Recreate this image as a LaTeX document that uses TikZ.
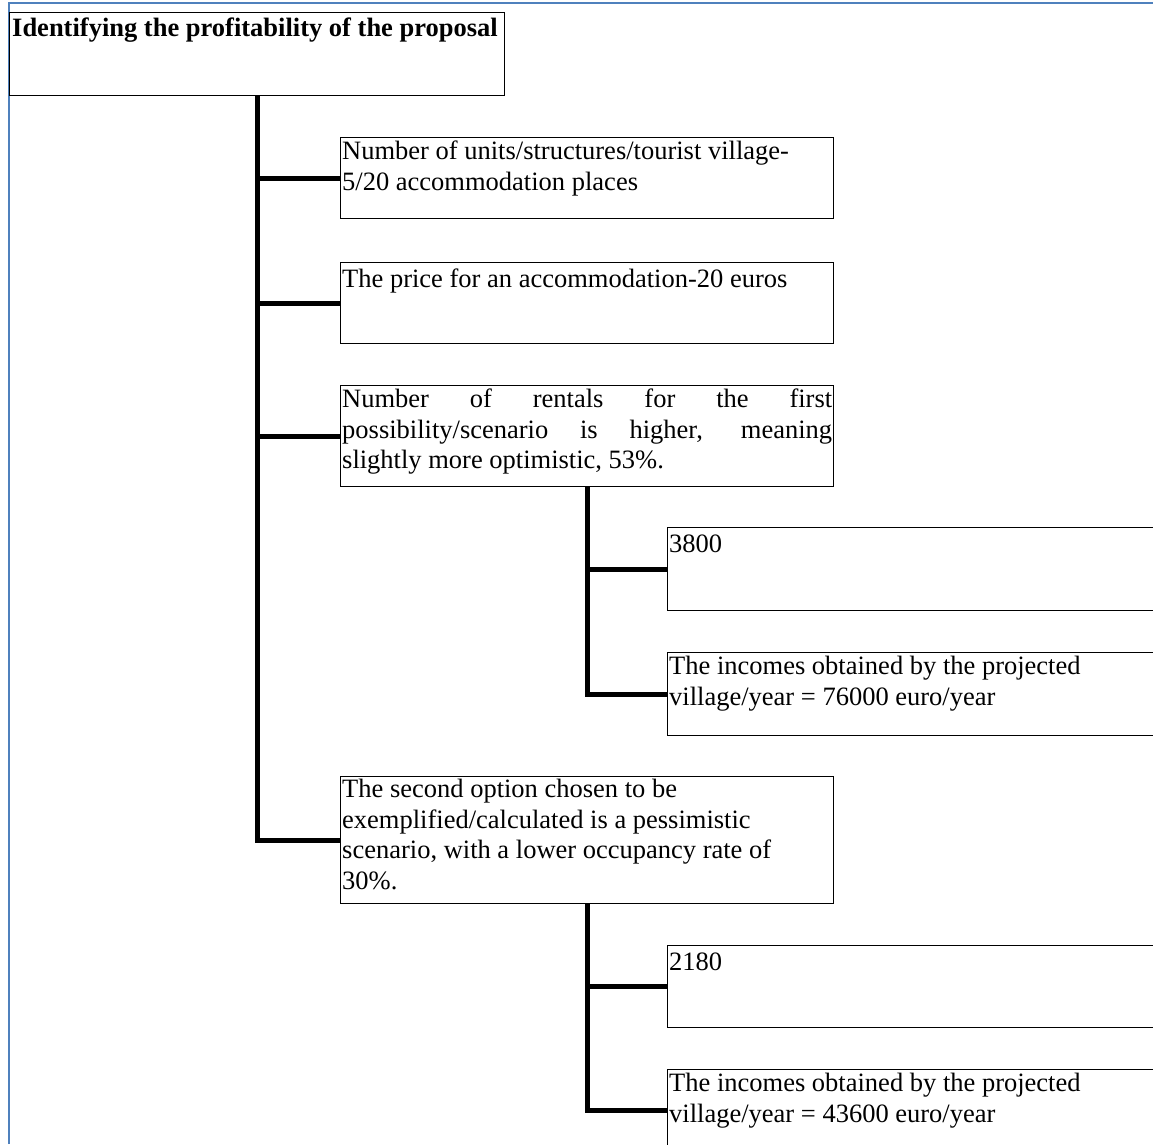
\documentclass[tikz,border=0pt]{standalone}
\usepackage{fontspec}
\setmainfont{Liberation Serif}
\usetikzlibrary{calc}
\definecolor{frameblue}{RGB}{79,129,189}
\tikzset{
  box/.style={draw,line width=1.3pt,anchor=north west,inner sep=0pt},
  txt/.style={anchor=north west,inner sep=0pt,align=left,font=\fontsize{26.5}{30.5}\selectfont,
    execute at begin node=\strut},
  head/.style={txt,font=\fontsize{26.5}{30.5}\selectfont\bfseries},
  trunk/.style={line width=5pt},
}
\begin{document}
\begin{tikzpicture}[x=1pt,y=-1pt]
\useasboundingbox (0,0) rectangle (1153,1144);
\clip (0,0) rectangle (1153,1144);
\draw[frameblue,line width=2pt] (9,1144) -- (9,3) -- (1153,3);

% boxes
\node[box,minimum width=495,minimum height=83] (top) at (9,12) {};
\node[box,minimum width=493,minimum height=81] (b1) at (340,137) {};
\node[box,minimum width=493,minimum height=81] (b2) at (340,262) {};
\node[box,minimum width=493,minimum height=101] (b3) at (340,385) {};
\node[box,minimum width=493,minimum height=127] (b4) at (340,776) {};
\node[box,minimum width=500,minimum height=83] (c1) at (667,527) {};
\node[box,minimum width=500,minimum height=83] (c2) at (667,652) {};
\node[box,minimum width=500,minimum height=82] (d1) at (667,945) {};
\node[box,minimum width=500,minimum height=82] (d2) at (667,1069) {};

% texts
\node[head] (topT) at ($(top.north west)+(3,3)$) {Identifying the profitability of the proposal};
\node[txt] (b1T) at ($(b1.north west)+(2,4)$) {Number of units/structures/tourist village-\\5/20 accommodation places};
\node[txt] (b2T) at ($(b2.north west)+(2,4)$) {The price for an accommodation-20 euros};
\node[txt] (b3T) at ($(b3.north west)+(2,4)$) {\makebox[490pt][s]{Number of rentals for the first}\\
  \makebox[490pt][s]{possibility/scenario is higher, meaning}\\slightly more optimistic, 53\%.};
\node[txt] (b4T) at ($(b4.north west)+(2,3)$) {The second option chosen to be\\exemplified/calculated is a pessimistic\\scenario, with a lower occupancy rate of\\30\%.};
\node[txt] (c1T) at ($(c1.north west)+(2,4)$) {3800};
\node[txt] (c2T) at ($(c2.north west)+(2,4)$) {The incomes obtained by the projected\\village/year = 76000 euro/year};
\node[txt] (d1T) at ($(d1.north west)+(2,4)$) {2180};
\node[txt] (d2T) at ($(d2.north west)+(2,4)$) {The incomes obtained by the projected\\village/year = 43600 euro/year};

% connectors
\draw[trunk] (top.south) |- (b4.west);
\foreach \n in {b1,b2,b3}
  \draw[trunk] (top.south |- \n.west) -- (\n.west);
\draw[trunk] (b3.south) |- (c2.west);
\draw[trunk] (b3.south |- c1.west) -- (c1.west);
\draw[trunk] (b4.south) |- (d2.west);
\draw[trunk] (b4.south |- d1.west) -- (d1.west);
\end{tikzpicture}
\end{document}
